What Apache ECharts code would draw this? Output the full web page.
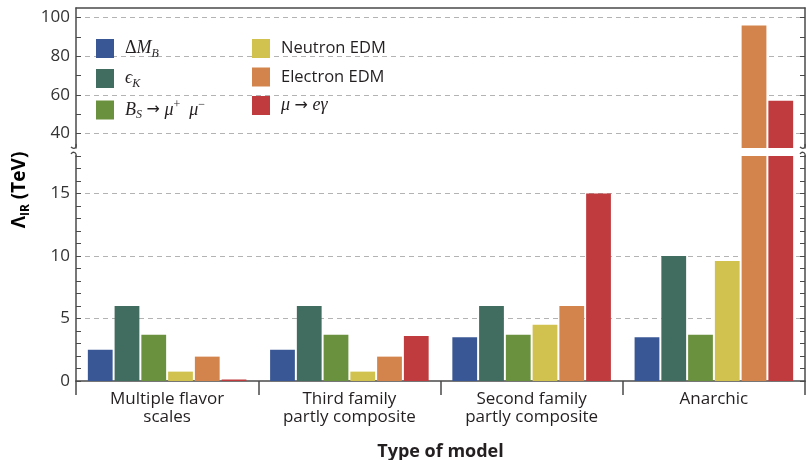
<!DOCTYPE html>
<html>
<head>
<meta charset="utf-8">
<script src="https://cdn.jsdelivr.net/npm/echarts@6/dist/echarts.min.js"></script>
<style>html,body{margin:0;padding:0;background:#fff}#c{width:808px;height:460px}</style>
</head>
<body>
<div id="c"></div>
<script>
// ---- data ----
const categories = ['Multiple flavor\nscales', 'Third family\npartly composite', 'Second family\npartly composite', 'Anarchic'];
const seriesNames = ['ΔMB', 'ϵK', 'Bs→μ+μ−', 'Neutron EDM', 'Electron EDM', 'μ→eγ'];
const dMB = [2.5, 2.5, 3.5, 3.5];
const epsK = [6, 6, 6, 10];
const bsMuMu = [3.7, 3.7, 3.7, 3.7];
const neutronEDM = [0.75, 0.75, 4.5, 9.6];
const electronEDM = [1.95, 1.95, 6, 96];
const muEGamma = [0.12, 3.6, 15, 57];
const lowerTicks = [0,1,2,3,4,5,6,7,8,9,10,11,12,13,14,15,16,17,18];
const lowerLabels = [0, 5, 10, 15];
const lowerGrid = [5, 10, 15];
const upperTicks = [40, 50, 60, 70, 80, 90, 100];
const upperLabels = [40, 60, 80, 100];
const upperGrid = [40, 60, 80, 100];

const seriesData = [dMB, epsK, bsMuMu, neutronEDM, electronEDM, muEGamma];
const colors = ['#3a5795', '#416c60', '#6a913d', '#d1c24f', '#d3844d', '#bf3b3d'];

const AX = '#4a4a4a';
const TXT = '#231f20';
const FONT = 'Open Sans';

const chart = echarts.init(document.getElementById('c'), null, {renderer: 'canvas'});

function yAxisSet(grid, min, max, ticks, labels, gridVals) {
  return [
    { type: 'value', gridIndex: grid, position: 'left', min: min, max: max,
      axisLine: {show: true, lineStyle: {color: AX, width: 1.5}},
      axisTick: {show: true, inside: true, length: 5, customValues: ticks, lineStyle: {color: AX, width: 1}},
      axisLabel: {show: true, margin: 6, customValues: labels, color: '#333', fontFamily: FONT, fontSize: 17},
      splitLine: {show: false} },
    { type: 'value', gridIndex: grid, position: 'right', min: min, max: max,
      axisLine: {show: true, lineStyle: {color: AX, width: 1.5}},
      axisTick: {show: true, inside: true, length: 5, customValues: ticks, lineStyle: {color: AX, width: 1}},
      axisLabel: {show: false},
      splitLine: {show: false} },
    { type: 'value', gridIndex: grid, position: 'left', min: min, max: max,
      axisLine: {show: false},
      axisTick: {show: false, customValues: gridVals},
      axisLabel: {show: false},
      splitLine: {show: true, lineStyle: {color: '#b3b3b3', width: 1, type: [5, 4]}} }
  ];
}

const yAxes = yAxisSet(0, 32.5, 105, upperTicks, upperLabels, upperGrid)
  .concat(yAxisSet(1, 0, 18, lowerTicks, lowerLabels, lowerGrid));

const series = [];
[0, 1].forEach(function (g) {
  seriesNames.forEach(function (n, i) {
    series.push({
      type: 'bar', name: n, xAxisIndex: g, yAxisIndex: g === 0 ? 0 : 3,
      data: seriesData[i], clip: true,
      barCategoryGap: '13%', barGap: '8%',
      itemStyle: {color: colors[i]},
      z: 3
    });
  });
});

const richLegend = {
  n: {fontFamily: FONT, fontSize: 16.5, color: TXT, lineHeight: 22},
  r: {fontFamily: 'Liberation Serif', fontSize: 18, color: TXT, lineHeight: 22},
  ar: {fontFamily: 'DejaVu Sans', fontSize: 16, color: TXT, lineHeight: 22},
  m: {fontFamily: 'Liberation Serif', fontStyle: 'italic', fontSize: 18, color: TXT, lineHeight: 22},
  sub: {fontFamily: 'Liberation Serif', fontStyle: 'italic', fontSize: 12, color: TXT, lineHeight: 16, verticalAlign: 'bottom'},
  sup: {fontFamily: 'Liberation Serif', fontSize: 12, color: TXT, lineHeight: 18, verticalAlign: 'top'}
};
const legendFmt = {
  'ΔMB': '{r|Δ}{m|M}{sub|B}',
  'ϵK': '{m|ϵ}{sub|K}',
  'Bs→μ+μ−': '{m|B}{sub|S}{m| }{ar|→}{m| μ}{sup|+}{m|  μ}{sup|−}',
  'μ→eγ': '{m|μ }{ar|→}{m| eγ}'
};
function mkLegend(left, names) {
  return {
    orient: 'vertical', left: left, top: 39, padding: 0,
    itemWidth: 18, itemHeight: 19, itemGap: 9.5, icon: 'rect',
    selectedMode: false,
    data: names,
    formatter: function (name) { return legendFmt[name] || ('{n|' + name + '}'); },
    textStyle: {padding: [0, 0, 0, 6], rich: richLegend}
  };
}

chart.setOption({
  animation: false,
  backgroundColor: '#fff',
  grid: [
    {left: 76, right: 3, top: 8, height: 140, outerBoundsMode: 'none', containLabel: false},
    {left: 76, right: 3, top: 156, bottom: 79, outerBoundsMode: 'none', containLabel: false}
  ],
  legend: [mkLegend(96, seriesNames.slice(0, 3)), mkLegend(252, seriesNames.slice(3))],
  xAxis: [
    { type: 'category', gridIndex: 0, position: 'top', data: categories,
      axisLine: {show: true, lineStyle: {color: AX, width: 1.5}},
      axisTick: {show: false}, axisLabel: {show: false} },
    { type: 'category', gridIndex: 1, position: 'bottom', data: categories,
      axisLine: {show: true, lineStyle: {color: AX, width: 1.5}},
      axisTick: {show: true, length: 14, lineStyle: {color: AX, width: 1.5}},
      axisLabel: {color: TXT, fontFamily: FONT, fontSize: 17, lineHeight: 18, margin: 9},
      name: 'Type of model', nameLocation: 'middle', nameGap: 62,
      nameTextStyle: {color: TXT, fontFamily: FONT, fontWeight: 'bold', fontSize: 18} }
  ],
  yAxis: yAxes,
  series: series,
  graphic: [
    { type: 'text', x: 20, y: 190, rotation: Math.PI / 2,
      style: {
        text: '{a|Λ}{s|IR}{a| (TeV)}',
        align: 'center', verticalAlign: 'middle',
        rich: {
          a: {fontFamily: FONT, fontWeight: 'bold', fontSize: 19, color: TXT, lineHeight: 24},
          s: {fontFamily: FONT, fontWeight: 'bold', fontSize: 12, color: TXT, lineHeight: 14, verticalAlign: 'bottom'}
        }
      } },
    // axis break marks
    { type: 'bezierCurve', shape: {x1: 76, y1: 144, cpx1: 77, cpy1: 149, cpx2: 73, cpy2: 149, x2: 71, y2: 147}, style: {stroke: AX, lineWidth: 1.3, fill: null} },
    { type: 'bezierCurve', shape: {x1: 71, y1: 154, cpx1: 73, cpy1: 151, cpx2: 77, cpy2: 152, x2: 76, y2: 157}, style: {stroke: AX, lineWidth: 1.3, fill: null} },
    { type: 'bezierCurve', shape: {x1: 805, y1: 144, cpx1: 806, cpy1: 149, cpx2: 802, cpy2: 149, x2: 800, y2: 147}, style: {stroke: AX, lineWidth: 1.3, fill: null} },
    { type: 'bezierCurve', shape: {x1: 800, y1: 154, cpx1: 802, cpy1: 151, cpx2: 806, cpy2: 152, x2: 805, y2: 157}, style: {stroke: AX, lineWidth: 1.3, fill: null} }
  ]
});
</script>
</body>
</html>
